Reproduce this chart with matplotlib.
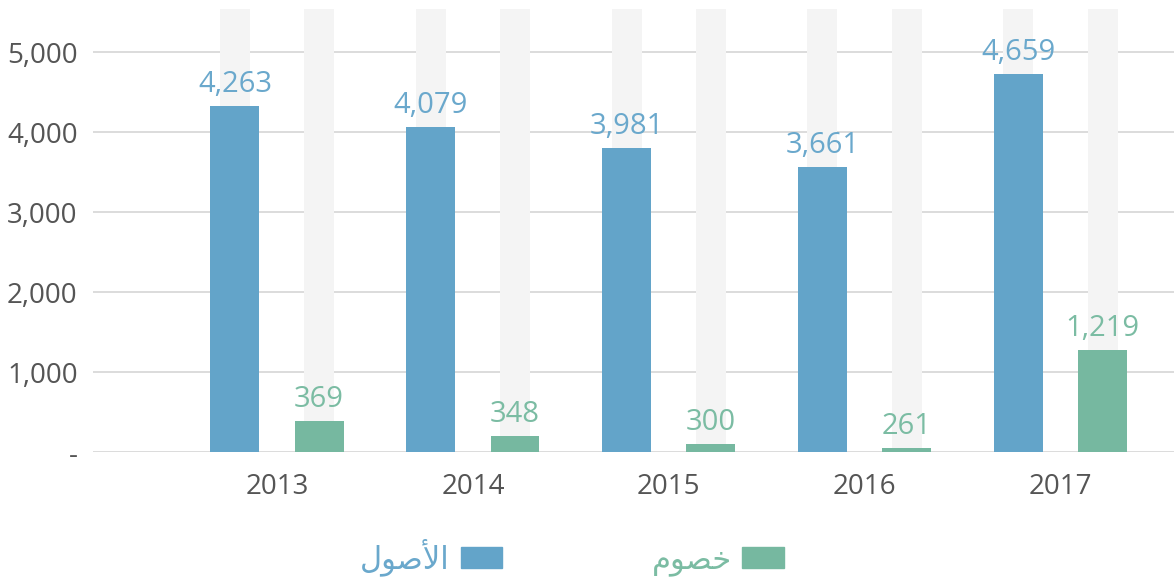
import numpy as np
import matplotlib
matplotlib.use('Agg')
import matplotlib.pyplot as plt
from matplotlib.patches import Patch

plt.rcParams['font.family'] = ['Open Sans', 'DejaVu Sans']

# ─── data ──────────────────────────────────────────────────────────────
years = ['2013', '2014', '2015', '2016', '2017']
assets = [4331, 4069, 3806, 3569, 4731]          # bar heights as drawn
liabilities = [394, 206, 106, 56, 1281]
asset_labels = ['4,263', '4,079', '3,981', '3,661', '4,659']
liab_labels = ['369', '348', '300', '261', '1,219']
backdrop = [5540] * 5
yticks = [0, 1000, 2000, 3000, 4000, 5000]
ytick_labels = ['-', '1,000', '2,000', '3,000', '4,000', '5,000']
# Arabic legend names, pre-shaped (presentation forms, visual order)
name_assets = '\uFEDD\uFEEE\uFEBB\uFEF7\uFE8D'   # الأصول
name_liabs = '\uFEE1\uFEEE\uFEBC\uFEA7'          # خصوم

BLUE, GREEN = '#63a4c9', '#76b8a0'
BLUE_TXT, GREEN_TXT = '#6aa8cc', '#7bbca3'
GRAY_BG = '#f4f4f4'

fig = plt.figure(figsize=(11.74, 5.81), dpi=100)
ax = fig.add_axes([0.0792, 0.2212, 0.9208, 0.7633])

x = np.arange(len(years))
off, w, wbg = 0.215, 0.25, 0.153

ax.bar(x - off, backdrop, wbg, color=GRAY_BG, zorder=2)
ax.bar(x + off, backdrop, wbg, color=GRAY_BG, zorder=2)
ax.bar(x - off, assets, w, color=BLUE, zorder=3)
ax.bar(x + off, liabilities, w, color=GREEN, zorder=3)

for xi, v, s in zip(x - off, assets, asset_labels):
    ax.annotate(s, (xi, v), xytext=(0, 5), textcoords='offset points',
                ha='center', va='bottom', fontsize=21, color=BLUE_TXT, zorder=4)
for xi, v, s in zip(x + off, liabilities, liab_labels):
    ax.annotate(s, (xi, v), xytext=(0, 5), textcoords='offset points',
                ha='center', va='bottom', fontsize=21, color=GREEN_TXT, zorder=4)

ax.set_xlim(-0.94, 4.58)
ax.set_ylim(0, 5540)
ax.set_yticks(yticks)
ax.set_yticklabels(ytick_labels)
ax.set_xticks(x)
ax.set_xticklabels(years)
ax.tick_params(axis='both', length=0, labelsize=20, labelcolor='#555555')
ax.tick_params(axis='y', pad=11)
ax.tick_params(axis='x', pad=15)
ax.grid(axis='y', color='#d9d9d9', lw=1.3, zorder=1)
ax.set_axisbelow(True)
for sp in ax.spines.values():
    sp.set_visible(False)

handles = [Patch(color=BLUE), Patch(color=GREEN)]
leg = fig.legend(handles, [name_assets, name_liabs], ncol=2, markerfirst=False,
                 loc='center', bbox_to_anchor=(572 / 1174, 1 - 557 / 581),
                 frameon=False, prop={'family': ['DejaVu Sans'], 'size': 22},
                 handlelength=1.35, handleheight=0.68, handletextpad=0.35,
                 columnspacing=4.9)
for t, c in zip(leg.get_texts(), [BLUE_TXT, GREEN_TXT]):
    t.set_color(c)

fig.savefig('out.png', dpi=100, facecolor='white')
